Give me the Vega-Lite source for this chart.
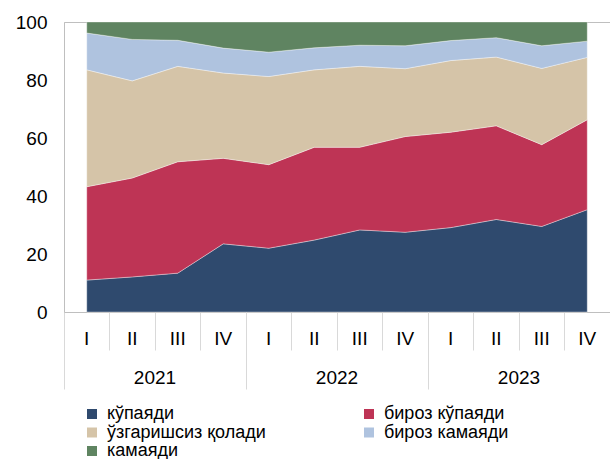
{
  "$schema": "https://vega.github.io/schema/vega-lite/v6.json",
  "width": 546,
  "height": 290,
  "autosize": {"type": "none"},
  "padding": {"left": 64, "top": 22, "right": 0, "bottom": 147},
  "background": "white",
  "config": {
    "font": "Liberation Sans",
    "view": {"stroke": "#bfbfbf", "strokeWidth": 1}
  },
  "data": {
    "values": [
      {"q": "2021 I", "year": "2021", "k": 1, "cat": "кўпаяди", "v": 11.0},
      {"q": "2021 I", "year": "2021", "k": 2, "cat": "бироз кўпаяди", "v": 32.2},
      {"q": "2021 I", "year": "2021", "k": 3, "cat": "ўзгаришсиз қолади", "v": 40.3},
      {"q": "2021 I", "year": "2021", "k": 4, "cat": "бироз камаяди", "v": 12.7},
      {"q": "2021 I", "year": "2021", "k": 5, "cat": "камаяди", "v": 3.8},
      {"q": "2021 II", "year": "2021", "k": 1, "cat": "кўпаяди", "v": 12.1},
      {"q": "2021 II", "year": "2021", "k": 2, "cat": "бироз кўпаяди", "v": 34.1},
      {"q": "2021 II", "year": "2021", "k": 3, "cat": "ўзгаришсиз қолади", "v": 33.5},
      {"q": "2021 II", "year": "2021", "k": 4, "cat": "бироз камаяди", "v": 14.3},
      {"q": "2021 II", "year": "2021", "k": 5, "cat": "камаяди", "v": 6.0},
      {"q": "2021 III", "year": "2021", "k": 1, "cat": "кўпаяди", "v": 13.4},
      {"q": "2021 III", "year": "2021", "k": 2, "cat": "бироз кўпаяди", "v": 38.4},
      {"q": "2021 III", "year": "2021", "k": 3, "cat": "ўзгаришсиз қолади", "v": 32.9},
      {"q": "2021 III", "year": "2021", "k": 4, "cat": "бироз камаяди", "v": 9.0},
      {"q": "2021 III", "year": "2021", "k": 5, "cat": "камаяди", "v": 6.3},
      {"q": "2021 IV", "year": "2021", "k": 1, "cat": "кўпаяди", "v": 23.5},
      {"q": "2021 IV", "year": "2021", "k": 2, "cat": "бироз кўпаяди", "v": 29.5},
      {"q": "2021 IV", "year": "2021", "k": 3, "cat": "ўзгаришсиз қолади", "v": 29.4},
      {"q": "2021 IV", "year": "2021", "k": 4, "cat": "бироз камаяди", "v": 8.6},
      {"q": "2021 IV", "year": "2021", "k": 5, "cat": "камаяди", "v": 9.0},
      {"q": "2022 I", "year": "2022", "k": 1, "cat": "кўпаяди", "v": 22.0},
      {"q": "2022 I", "year": "2022", "k": 2, "cat": "бироз кўпаяди", "v": 28.8},
      {"q": "2022 I", "year": "2022", "k": 3, "cat": "ўзгаришсиз қолади", "v": 30.4},
      {"q": "2022 I", "year": "2022", "k": 4, "cat": "бироз камаяди", "v": 8.4},
      {"q": "2022 I", "year": "2022", "k": 5, "cat": "камаяди", "v": 10.4},
      {"q": "2022 II", "year": "2022", "k": 1, "cat": "кўпаяди", "v": 24.8},
      {"q": "2022 II", "year": "2022", "k": 2, "cat": "бироз кўпаяди", "v": 32.0},
      {"q": "2022 II", "year": "2022", "k": 3, "cat": "ўзгаришсиз қолади", "v": 26.7},
      {"q": "2022 II", "year": "2022", "k": 4, "cat": "бироз камаяди", "v": 7.6},
      {"q": "2022 II", "year": "2022", "k": 5, "cat": "камаяди", "v": 8.9},
      {"q": "2022 III", "year": "2022", "k": 1, "cat": "кўпаяди", "v": 28.3},
      {"q": "2022 III", "year": "2022", "k": 2, "cat": "бироз кўпаяди", "v": 28.5},
      {"q": "2022 III", "year": "2022", "k": 3, "cat": "ўзгаришсиз қолади", "v": 27.9},
      {"q": "2022 III", "year": "2022", "k": 4, "cat": "бироз камаяди", "v": 7.3},
      {"q": "2022 III", "year": "2022", "k": 5, "cat": "камаяди", "v": 8.0},
      {"q": "2022 IV", "year": "2022", "k": 1, "cat": "кўпаяди", "v": 27.5},
      {"q": "2022 IV", "year": "2022", "k": 2, "cat": "бироз кўпаяди", "v": 33.0},
      {"q": "2022 IV", "year": "2022", "k": 3, "cat": "ўзгаришсиз қолади", "v": 23.4},
      {"q": "2022 IV", "year": "2022", "k": 4, "cat": "бироз камаяди", "v": 7.9},
      {"q": "2022 IV", "year": "2022", "k": 5, "cat": "камаяди", "v": 8.2},
      {"q": "2023 I", "year": "2023", "k": 1, "cat": "кўпаяди", "v": 29.1},
      {"q": "2023 I", "year": "2023", "k": 2, "cat": "бироз кўпаяди", "v": 32.9},
      {"q": "2023 I", "year": "2023", "k": 3, "cat": "ўзгаришсиз қолади", "v": 24.7},
      {"q": "2023 I", "year": "2023", "k": 4, "cat": "бироз камаяди", "v": 6.9},
      {"q": "2023 I", "year": "2023", "k": 5, "cat": "камаяди", "v": 6.4},
      {"q": "2023 II", "year": "2023", "k": 1, "cat": "кўпаяди", "v": 31.9},
      {"q": "2023 II", "year": "2023", "k": 2, "cat": "бироз кўпаяди", "v": 32.3},
      {"q": "2023 II", "year": "2023", "k": 3, "cat": "ўзгаришсиз қолади", "v": 23.7},
      {"q": "2023 II", "year": "2023", "k": 4, "cat": "бироз камаяди", "v": 6.7},
      {"q": "2023 II", "year": "2023", "k": 5, "cat": "камаяди", "v": 5.4},
      {"q": "2023 III", "year": "2023", "k": 1, "cat": "кўпаяди", "v": 29.5},
      {"q": "2023 III", "year": "2023", "k": 2, "cat": "бироз кўпаяди", "v": 28.2},
      {"q": "2023 III", "year": "2023", "k": 3, "cat": "ўзгаришсиз қолади", "v": 26.3},
      {"q": "2023 III", "year": "2023", "k": 4, "cat": "бироз камаяди", "v": 7.8},
      {"q": "2023 III", "year": "2023", "k": 5, "cat": "камаяди", "v": 8.2},
      {"q": "2023 IV", "year": "2023", "k": 1, "cat": "кўпаяди", "v": 35.3},
      {"q": "2023 IV", "year": "2023", "k": 2, "cat": "бироз кўпаяди", "v": 31.0},
      {"q": "2023 IV", "year": "2023", "k": 3, "cat": "ўзгаришсиз қолади", "v": 21.5},
      {"q": "2023 IV", "year": "2023", "k": 4, "cat": "бироз камаяди", "v": 5.6},
      {"q": "2023 IV", "year": "2023", "k": 5, "cat": "камаяди", "v": 6.6}
    ]
  },
  "layer": [
    {
      "mark": {"type": "area", "stroke": "white", "strokeWidth": 0.6, "strokeOpacity": 0.6},
      "encoding": {
        "x": {
          "field": "q",
          "type": "ordinal",
          "sort": null,
          "bandPosition": 0.5,
          "scale": {"type": "band", "paddingInner": 0, "paddingOuter": 0},
          "axis": {
            "title": null,
            "orient": "bottom",
            "bandPosition": 0,
            "labelAngle": 0,
            "labelExpr": "split(datum.label, ' ')[1]",
            "labelFontSize": 19,
            "labelColor": "#000000",
            "labelBaseline": "middle",
            "labelPadding": -12,
            "tickSize": 38,
            "tickColor": "#d9d9d9",
            "tickWidth": 1,
            "domainColor": "#bfbfbf",
            "grid": false
          }
        },
        "y": {
          "field": "v",
          "type": "quantitative",
          "stack": "zero",
          "scale": {"domain": [0, 100], "nice": false},
          "axis": {
            "title": null,
            "values": [0, 20, 40, 60, 80, 100],
            "grid": false,
            "ticks": false,
            "labelPadding": 17,
            "labelFontSize": 19,
            "labelColor": "#000000",
            "domainColor": "#bfbfbf"
          }
        },
        "order": {"field": "k", "type": "quantitative"},
        "color": {
          "field": "cat",
          "type": "nominal",
          "sort": ["кўпаяди", "бироз кўпаяди", "ўзгаришсиз қолади", "бироз камаяди", "камаяди"],
          "scale": {
            "domain": ["кўпаяди", "бироз кўпаяди", "ўзгаришсиз қолади", "бироз камаяди", "камаяди"],
            "range": ["#2f4a6e", "#be3455", "#d5c4a8", "#afc3df", "#5f8461"]
          },
          "legend": {
            "title": null,
            "orient": "none",
            "direction": "horizontal",
            "legendX": 19,
            "legendY": 383,
            "columns": 2,
            "symbolType": "square",
            "symbolSize": 100,
            "symbolStrokeWidth": 0,
            "labelFontSize": 18,
            "labelColor": "#000000",
            "labelOffset": 6,
            "columnPadding": 94,
            "rowPadding": 0.5
          }
        }
      }
    },
    {
      "mark": {"type": "rule", "opacity": 0},
      "encoding": {
        "x": {
          "field": "year",
          "type": "ordinal",
          "scale": {"type": "band", "paddingInner": 0, "paddingOuter": 0},
          "axis": {
            "title": null,
            "orient": "bottom",
            "bandPosition": 0,
            "labelAngle": 0,
            "labelFontSize": 19,
            "labelColor": "#000000",
            "labelBaseline": "middle",
            "labelPadding": -12,
            "tickSize": 77,
            "tickColor": "#d9d9d9",
            "tickWidth": 1,
            "domain": false,
            "grid": false
          }
        }
      }
    }
  ],
  "resolve": {"scale": {"x": "independent"}, "axis": {"x": "independent"}}
}
